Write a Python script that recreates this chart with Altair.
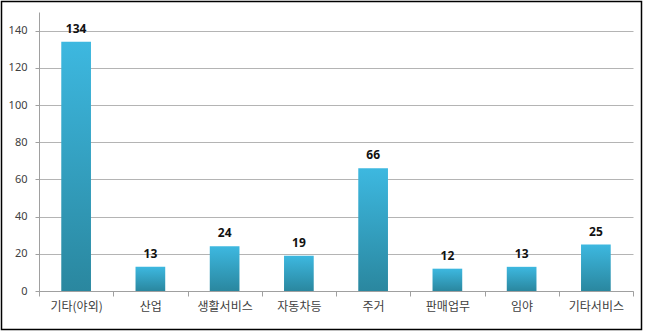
import altair as alt
import pandas as pd

categories = ["기타(야외)", "산업", "생활서비스", "자동차등", "주거", "판매업무", "임야", "기타서비스"]
values = [134, 13, 24, 19, 66, 12, 13, 25]
y_ticks = [0, 20, 40, 60, 80, 100, 120, 140]

df = pd.DataFrame({"category": categories, "value": values})

x = alt.X(
    "category:N", sort=categories, title=None,
    scale=alt.Scale(paddingInner=0, paddingOuter=0),
    axis=alt.Axis(labelAngle=0, tickBand="extent", tickSize=5, ticks=True,
                  domainColor="#a0a0a0", tickColor="#a0a0a0",
                  labelFont="Noto Sans CJK KR", labelFontSize=12,
                  labelColor="#404040", labelPadding=5, grid=False,
                  labelOverlap=False),
)
y = alt.Y(
    "value:Q", title=None,
    scale=alt.Scale(domain=[0, 150], nice=False),
    axis=alt.Axis(values=y_ticks, tickCount=8, tickSize=4, labelPadding=8,
                  domainColor="#a0a0a0", tickColor="#a0a0a0",
                  gridColor="#b4b4b4", grid=True, labelOverlap=False,
                  labelFont="Noto Sans", labelFontSize=11, labelColor="#404040"),
)

gradient = alt.Gradient(
    gradient="linear", x1=0, y1=0, x2=0, y2=1,
    stops=[alt.GradientStop(color="#3db8e0", offset=0),
           alt.GradientStop(color="#2a879f", offset=1)],
)

bars = alt.Chart(df).mark_bar(width=alt.RelativeBandSize(0.4), color=gradient).encode(x=x, y=y)

labels = alt.Chart(df).mark_text(
    dy=-9, baseline="alphabetic", fontWeight="bold", fontSize=12,
    font="Noto Sans", color="#111111"
).encode(x=x, y=y, text="value:Q")

border = alt.Chart(alt.Data(values=[{}])).mark_rect(
    filled=False, stroke="black", strokeWidth=1.5
).encode(x=alt.value(-37.5), x2=alt.value(602.5), y=alt.value(-10.5), y2=alt.value(317.5))

chart = alt.layer(bars, labels, border).properties(
    width=594, height=279,
    autosize=alt.AutoSizeParams(type="none"),
    padding={"left": 39, "top": 12, "right": 12, "bottom": 41},
    background="white",
).configure_view(stroke=None)

chart.save("out.html", embed_options={"renderer": "svg", "actions": False})
